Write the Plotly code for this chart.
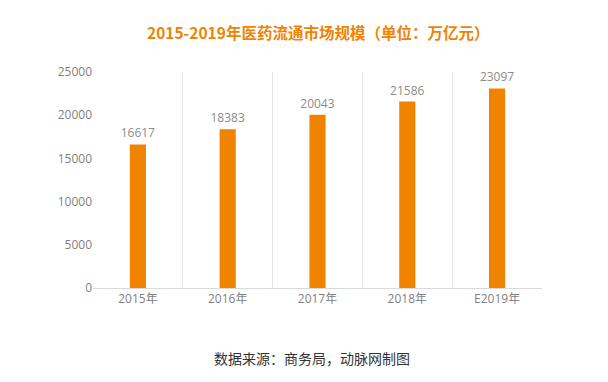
import plotly.graph_objects as go

categories = ["2015年", "2016年", "2017年", "2018年", "E2019年"]
values = [16617, 18383, 20043, 21586, 23097]
y_ticks = [0, 5000, 10000, 15000, 20000, 25000]
y_tick_labels = ["0", "5000", "10000", "15000", "20000", "25000"]

title_text = "2015-2019年医药流通市场规模（单位：万亿元）"
source_text = "数据来源：商务局，动脉网制图"

bar_color = "#F08300"
font_family = "Open Sans, Noto Sans CJK SC, sans-serif"
cjk_family = "Noto Sans CJK SC, Noto Sans, sans-serif"

# page body adds an 8px offset; compensate
OFF = 8
W, H = 608 - OFF, 382 - OFF
L, R, T, B = 93 - OFF, 608 - 542, 72 - OFF, H - (288 - OFF)
plot_h = H - T - B
plot_w = W - L - R

fig = go.Figure()
fig.add_trace(go.Bar(
    x=categories, y=values,
    marker=dict(color=bar_color, line=dict(width=0)),
    width=0.18,
    text=[str(v) for v in values],
    textposition="outside",
    constraintext="none",
    textfont=dict(color="#8c8c8c", size=12, family=font_family),
    cliponaxis=False,
))

def px_to_paper_x(px):
    return (px - OFF - L) / plot_w

def px_to_paper_y(py):
    return (H - B - (py - OFF)) / plot_h

fig.update_layout(
    width=W, height=H,
    margin=dict(l=L, r=R, t=T, b=B, autoexpand=False),
    paper_bgcolor="white", plot_bgcolor="white",
    font=dict(family=font_family, color="#7f7f7f", size=12),
    showlegend=False,
    annotations=[
        dict(text=f"<b>{title_text}</b>", x=px_to_paper_x(318), y=px_to_paper_y(32),
             xref="paper", yref="paper", xanchor="center", yanchor="middle",
             showarrow=False, font=dict(size=15.5, color="#F08300", family=cjk_family)),
        dict(text=source_text, x=px_to_paper_x(312), y=px_to_paper_y(358),
             xref="paper", yref="paper", xanchor="center", yanchor="middle",
             showarrow=False, font=dict(size=14, color="#333333", family=cjk_family)),
    ],
)

fig.update_xaxes(
    type="category",
    tickson="boundaries",
    showgrid=True, gridcolor="#e6e6e6", gridwidth=1,
    showline=True, linecolor="#d9d9d9", linewidth=1,
    ticks="", ticklen=0,
    tickfont=dict(size=12, color="#7f7f7f"),
    range=[-0.5, 4.5],
    automargin=False,
)
fig.update_yaxes(
    range=[0, 25000],
    tickvals=y_ticks, ticktext=y_tick_labels,
    showgrid=False, zeroline=False, showline=False,
    ticks="", ticklen=0,
    tickfont=dict(size=12, color="#7f7f7f"),
    automargin=False,
)

fig.write_html("out.html")
